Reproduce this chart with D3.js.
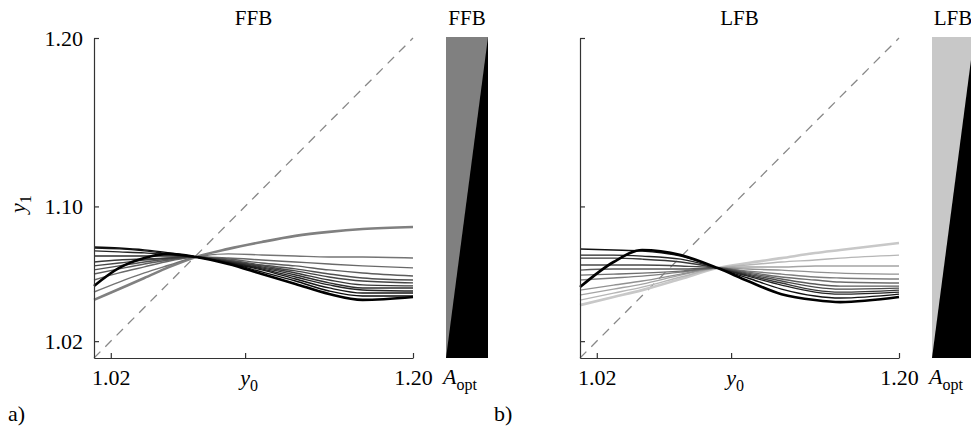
<!DOCTYPE html>
<html lang="en">
<head>
  <meta charset="UTF-8">
  <title>FFB / LFB</title>
  <style>
    body {
      margin: 0;
      background: #fff;
    }

    svg {
      display: block;
      font-family: "Liberation Serif", "Times New Roman", serif;
    }

    .axis text {
      font-size: 22px;
      fill: #000;
      font-family: "Liberation Serif", serif;
    }

    .axis path,
    .axis line {
      stroke: #333;
      stroke-width: 1.2;
    }

    .curve {
      fill: none;
    }

    .diag {
      stroke: #888;
      stroke-width: 1.3;
      stroke-dasharray: 9 7;
    }
  </style>
</head>
<body>
  <div id="chart"></div>

  <script src="https://d3js.org/d3.v7.min.js"></script>
  <script>
    // y0 samples and y1 values
    const ffbX = [1.01, 1.025, 1.04, 1.055, 1.0707, 1.09, 1.11, 1.13, 1.15, 1.17, 1.20];
    const ffbCurves = [
      [1.0445, 1.0510, 1.0575, 1.0641, 1.0700, 1.0748, 1.0789, 1.0825, 1.0849, 1.0866, 1.0878],
      [1.0492, 1.0551, 1.0605, 1.0652, 1.0700, 1.0718, 1.0712, 1.0706, 1.0700, 1.0700, 1.0694],
      [1.0563, 1.0605, 1.0641, 1.0676, 1.0700, 1.0694, 1.0682, 1.0670, 1.0658, 1.0647, 1.0635],
      [1.0599, 1.0629, 1.0658, 1.0682, 1.0700, 1.0688, 1.0664, 1.0647, 1.0623, 1.0605, 1.0587],
      [1.0623, 1.0647, 1.0670, 1.0688, 1.0700, 1.0682, 1.0652, 1.0629, 1.0599, 1.0575, 1.0563],
      [1.0647, 1.0664, 1.0682, 1.0694, 1.0700, 1.0676, 1.0647, 1.0617, 1.0581, 1.0557, 1.0546],
      [1.0670, 1.0682, 1.0688, 1.0694, 1.0700, 1.0676, 1.0641, 1.0605, 1.0563, 1.0534, 1.0528],
      [1.0706, 1.0706, 1.0706, 1.0706, 1.0700, 1.0670, 1.0635, 1.0593, 1.0546, 1.0516, 1.0516],
      [1.0736, 1.0730, 1.0724, 1.0712, 1.0700, 1.0670, 1.0629, 1.0581, 1.0534, 1.0504, 1.0498],
      [1.0753, 1.0748, 1.0736, 1.0718, 1.0700, 1.0664, 1.0623, 1.0569, 1.0516, 1.0486, 1.0486],
      [1.0759, 1.0753, 1.0742, 1.0724, 1.0700, 1.0664, 1.0611, 1.0557, 1.0498, 1.0468, 1.0468],
      [1.0528, 1.0635, 1.0694, 1.0718, 1.0700, 1.0658, 1.0599, 1.0540, 1.0480, 1.0445, 1.0462]
    ];

    const lfbX = [1.01, 1.03, 1.047, 1.07, 1.092, 1.11, 1.13, 1.15, 1.165, 1.20];
    const lfbCurves = [
      [1.0414, 1.0462, 1.0503, 1.0569, 1.0634, 1.0664, 1.0693, 1.0723, 1.0741, 1.0783],
      [1.0444, 1.0485, 1.0521, 1.0581, 1.0634, 1.0652, 1.0670, 1.0682, 1.0693, 1.0711],
      [1.0474, 1.0509, 1.0539, 1.0592, 1.0634, 1.0640, 1.0640, 1.0646, 1.0646, 1.0646],
      [1.0503, 1.0533, 1.0557, 1.0598, 1.0634, 1.0628, 1.0622, 1.0610, 1.0604, 1.0598],
      [1.0563, 1.0575, 1.0586, 1.0610, 1.0634, 1.0616, 1.0598, 1.0581, 1.0575, 1.0569],
      [1.0592, 1.0598, 1.0604, 1.0616, 1.0634, 1.0610, 1.0581, 1.0563, 1.0551, 1.0545],
      [1.0622, 1.0628, 1.0628, 1.0628, 1.0634, 1.0604, 1.0569, 1.0539, 1.0527, 1.0527],
      [1.0652, 1.0652, 1.0652, 1.0646, 1.0634, 1.0598, 1.0557, 1.0521, 1.0509, 1.0515],
      [1.0693, 1.0693, 1.0687, 1.0670, 1.0634, 1.0592, 1.0545, 1.0503, 1.0491, 1.0503],
      [1.0711, 1.0711, 1.0705, 1.0687, 1.0634, 1.0586, 1.0533, 1.0491, 1.0479, 1.0491],
      [1.0747, 1.0741, 1.0735, 1.0705, 1.0634, 1.0575, 1.0509, 1.0468, 1.0456, 1.0479],
      [1.0521, 1.0670, 1.0741, 1.0711, 1.0634, 1.0557, 1.0479, 1.0444, 1.0432, 1.0462]
    ];

    const axisDomain = [1.01, 1.20];
    const yTicks = [1.02, 1.10, 1.20];
    const xTicks = [1.02, 1.10, 1.20];
    const xTickLabels = ["1.02", "", "1.20"];
    const aOptRange = [0, 1];

    const width = 971;
    const height = 432;

    const panels = [
      { name: "FFB", tag: "a)", xs: ffbX, curves: ffbCurves, light: "#808080", left: 94, yLabels: true },
      { name: "LFB", tag: "b)", xs: lfbX, curves: lfbCurves, light: "#c8c8c8", left: 580, yLabels: false }
    ];

    const svg = d3.select('#chart')
      .append('svg')
      .attr('width', width)
      .attr('height', height);

    panels.forEach(p => {
      const x = d3.scaleLinear().domain(axisDomain).range([p.left, p.left + 319]);
      const y = d3.scaleLinear().domain(axisDomain).range([358, 38]);
      const g = svg.append('g');

      // dashed diagonal y1 = y0
      g.append('line')
        .classed('diag', true)
        .attr('x1', x(axisDomain[0]))
        .attr('y1', y(axisDomain[0]))
        .attr('x2', x(axisDomain[1]))
        .attr('y2', y(axisDomain[1]));

      // curves, light -> black
      const n = p.curves.length;
      const color = d3.interpolateRgb(p.light, "#000");
      const line = d3.line()
        .x((d, i) => x(p.xs[i]))
        .y(d => y(d))
        .curve(d3.curveMonotoneX);

      g.selectAll('.curve')
        .data(p.curves)
        .enter()
        .append('path')
        .classed('curve', true)
        .attr('d', line)
        .attr('stroke', (d, i) => color(i / (n - 1)))
        .attr('stroke-width', (d, i) => (i === 0 || i === n - 1) ? 2.6 : 1.4);

      // axes
      g.append('g')
        .classed('axis', true)
        .attr('transform', `translate(${p.left},0)`)
        .call(d3.axisLeft(y)
          .tickValues(yTicks)
          .tickSize(-5)
          .tickSizeOuter(0)
          .tickPadding(11)
          .tickFormat(p.yLabels ? d3.format('.2f') : () => ''));

      g.append('g')
        .classed('axis', true)
        .attr('transform', 'translate(0,358)')
        .call(d3.axisBottom(x)
          .tickValues(xTicks)
          .tickSize(-5)
          .tickSizeOuter(0)
          .tickPadding(11)
          .tickFormat((d, i) => xTickLabels[i]));

      // x label y0
      const xl = g.append('text')
        .attr('x', x(1.10) + 4)
        .attr('y', 385)
        .attr('text-anchor', 'middle')
        .style('font-size', '22px');
      xl.append('tspan').style('font-style', 'italic').text('y');
      xl.append('tspan').attr('dy', 6).style('font-size', '16px').text('0');

      if (p.yLabels) {
        const yl = g.append('text')
          .attr('transform', 'translate(25,204) rotate(-90)')
          .attr('text-anchor', 'middle')
          .style('font-size', '22px');
        yl.append('tspan').style('font-style', 'italic').text('y');
        yl.append('tspan').attr('dy', 6).style('font-size', '16px').text('1');
      }

      // panel title
      g.append('text')
        .attr('x', x(1.105))
        .attr('y', 25)
        .attr('text-anchor', 'middle')
        .style('font-size', '21px')
        .text(p.name);

      // A_opt bar
      const bx = d3.scaleLinear().domain(aOptRange).range([p.left + 352, p.left + 394]);
      g.append('rect')
        .attr('x', bx(0))
        .attr('y', y(axisDomain[1]) - 1)
        .attr('width', bx(1) - bx(0))
        .attr('height', y(axisDomain[0]) - y(axisDomain[1]) + 1)
        .attr('fill', p.light);

      g.append('polygon')
        .attr('points', [
          [bx(0), y(axisDomain[0])],
          [bx(1), y(axisDomain[0])],
          [bx(1), y(axisDomain[1]) - 1]
        ].map(d => d.join(',')).join(' '))
        .attr('fill', '#000');

      g.append('text')
        .attr('x', bx(0.5))
        .attr('y', 25)
        .attr('text-anchor', 'middle')
        .style('font-size', '21px')
        .text(p.name);

      const al = g.append('text')
        .attr('x', bx(0) - 3)
        .attr('y', 384)
        .style('font-size', '22px');
      al.append('tspan').style('font-style', 'italic').text('A');
      al.append('tspan').attr('dy', 6).style('font-size', '16px').text('opt');

      // panel tag
      g.append('text')
        .attr('x', p.left - 86)
        .attr('y', 421)
        .style('font-size', '22px')
        .text(p.tag);
    });
  </script>
</body>
</html>
